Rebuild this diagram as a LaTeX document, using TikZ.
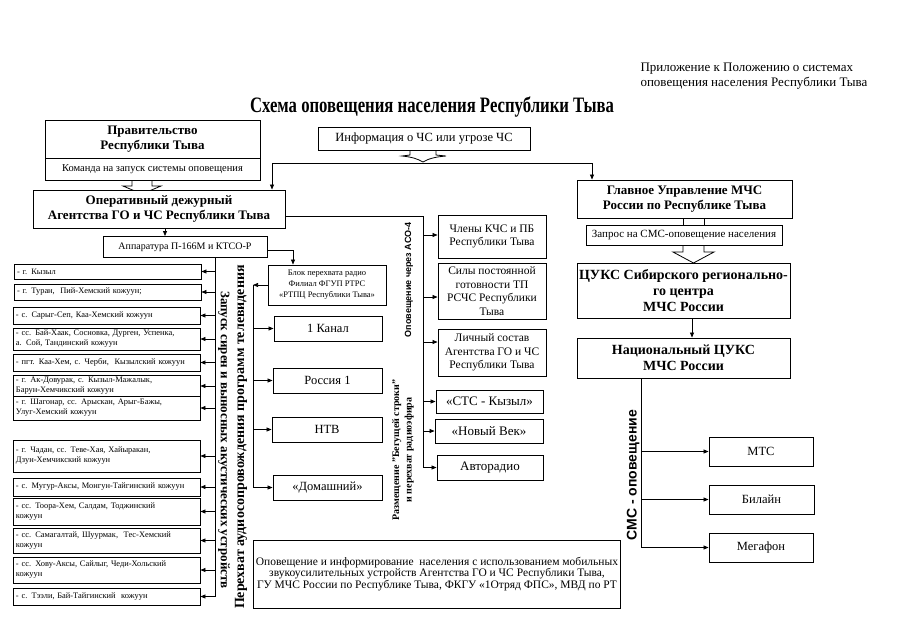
\documentclass[tikz,border=0pt]{standalone}
\usepackage{fontspec}
\usepackage{graphicx}
\setmainfont{Liberation Serif}
\setsansfont{Liberation Sans}
\usetikzlibrary{arrows.meta}
\newcommand{\fsz}[2]{\fontsize{#1}{#2}\selectfont}
\begin{document}
\begin{tikzpicture}[x=1pt,y=-1pt,
  bx/.style={draw, line width=0.9pt, fill=white, inner sep=2pt, align=center},
  lbx/.style={bx, align=left, text width=181pt, inner xsep=3pt, inner ysep=1pt, font=\fsz{8.4}{10}},
  cn/.style={line width=0.7pt},
  ar/.style={cn, -{Triangle[length=5pt,width=4pt]}},
  hol/.style={line width=0.8pt, fill=white}
]
\useasboundingbox (0,0) rectangle (905,640);

% header and title
\node[align=left, anchor=west, font=\fsz{13}{15}] (hdr) at (637,76.5) {Приложение к Положению о системах\\оповещения населения Республики Тыва};
\node[font=\bfseries\fsz{22}{24}] (title) at (432,107) {\scalebox{0.76}[1]{Схема оповещения населения Республики Тыва}};

% hollow arrows (drawn under boxes)
\draw[hol] (132,179) -- (132,186) -- (123,186) -- (142,194) -- (161,186) -- (152,186) -- (152,179);
\draw[hol] (683,244) -- (683,252) -- (673,252) -- (693.5,263) -- (714,252) -- (704,252) -- (704,244);
\draw[cn] (683,217) -- (683,226) (704,217) -- (704,226);
\draw[hol] (410,149) -- (410,155) -- (402,156) .. controls (412,157) and (418,159) .. (423,162) .. controls (428,159) and (434,157) .. (446,156) -- (436,155) -- (436,149);

% top-left chain
\node[bx, minimum width=215pt, minimum height=38pt, font=\bfseries\fsz{13}{15}] (prav) at (152.5,139) {Правительство\\Республики Тыва};
\node[bx, minimum width=215pt, minimum height=22pt, font=\fsz{10.5}{12}] (kom) at (152.5,169) {Команда на запуск системы оповещения};
\node[bx, minimum width=252pt, minimum height=38pt, font=\bfseries\fsz{13}{15}] (oper) at (159,209) {Оперативный дежурный\\Агентства ГО и ЧС Республики Тыва};
\node[bx, minimum width=164pt, minimum height=21pt, font=\fsz{10}{12}] (appar) at (185,247) {Аппаратура П-166М и КТСО-Р};

% info
\node[bx, minimum width=212pt, minimum height=23pt, font=\fsz{12.5}{14}] (info) at (424,138.5) {Информация о ЧС или угрозе ЧС};

% right column
\node[bx, minimum width=215pt, minimum height=38pt, font=\bfseries\fsz{13}{15}] (gu) at (684.5,199) {Главное Управление МЧС\\России по Республике Тыва};
\node[bx, minimum width=196pt, minimum height=20pt, font=\fsz{11}{13}] (zapr) at (684,235) {Запрос на СМС-оповещение населения};
\node[bx, minimum width=213pt, minimum height=55pt, font=\bfseries\fsz{14}{16}] (cuks) at (683.5,290.5) {ЦУКС Сибирского регионально-\\го центра\\МЧС России};
\node[bx, minimum width=213pt, minimum height=40pt, font=\bfseries\fsz{14}{16}] (nac) at (683.5,358) {Национальный ЦУКС\\МЧС России};
\node[bx, minimum width=104pt, minimum height=29pt, font=\fsz{12.5}{14}] (mts) at (761,451.5) {МТС};
\node[bx, minimum width=105pt, minimum height=29pt, font=\fsz{12.5}{14}] (bil) at (761.5,499.5) {Билайн};
\node[bx, minimum width=104pt, minimum height=29pt, font=\fsz{12.5}{14}] (meg) at (761,547.5) {Мегафон};
\node[rotate=90, font=\sffamily\bfseries\fsz{14}{16}] (sms) at (633,475) {СМС - оповещение};

% TV block
\node[bx, minimum width=118pt, minimum height=40pt, font=\fsz{8.5}{11}] (blok) at (327,285) {Блок перехвата радио\\Филиал ФГУП РТРС\\«РТПЦ Республики Тыва»};
\node[bx, minimum width=108pt, minimum height=25pt, font=\fsz{12.5}{14}] (k1c) at (328,328.5) {1 Канал};
\node[bx, minimum width=109pt, minimum height=25pt, font=\fsz{12.5}{14}] (ros) at (327.5,380.5) {Россия 1};
\node[bx, minimum width=110pt, minimum height=25pt, font=\fsz{12.5}{14}] (ntv) at (327,429.5) {НТВ};
\node[bx, minimum width=109pt, minimum height=25pt, font=\fsz{12.5}{14}] (dom) at (327.5,487.5) {«Домашний»};

% ASO block
\node[bx, minimum width=108pt, minimum height=43pt, font=\fsz{11.5}{13.5}] (kchs) at (492,236.5) {Члены КЧС и ПБ\\Республики Тыва};
\node[bx, minimum width=108pt, minimum height=56pt, font=\fsz{11.5}{13.5}] (sily) at (492,291) {Силы постоянной\\готовности ТП\\РСЧС Республики\\Тыва};
\node[bx, minimum width=108pt, minimum height=47pt, font=\fsz{11.5}{13.5}] (lich) at (492,352.5) {Личный состав\\Агентства ГО и ЧС\\Республики Тыва};
\node[bx, minimum width=107pt, minimum height=23pt, font=\fsz{13}{15}] (sts) at (489.5,401.5) {«СТС - Кызыл»};
\node[bx, minimum width=108pt, minimum height=24pt, font=\fsz{13}{15}] (vek) at (489,431) {«Новый Век»};
\node[bx, minimum width=106pt, minimum height=25pt, font=\fsz{13}{15}] (avto) at (490,467.5) {Авторадио};
\node[rotate=90, font=\sffamily\bfseries\fsz{9}{10}] (aso) at (409,280) {Оповещение через АСО-4};
\node[rotate=90, font=\bfseries\fsz{10}{12.5}, align=center] (beg) at (403,450) {Размещение "Бегущей строки"\\и перехват радиоэфира};

% bottom box
\node[bx, minimum width=364pt, minimum height=68pt, font=\fsz{11.5}{11.5}] (mob) at (437,574) {Оповещение и информирование\ \ населения с использованием мобильных\\звукоусилительных устройств Агентства ГО и ЧС Республики Тыва,\\ГУ МЧС России по Республике Тыва, ФКГУ «1Отряд ФПС», МВД по РТ};

% left list
\node[lbx, minimum height=15pt] (l1) at (107.5,271.5) {- г. Кызыл};
\node[lbx, minimum height=16pt] (l2) at (107.5,292) {- г. Туран,\ \ Пий-Хемский кожуун;};
\node[lbx, minimum height=17pt] (l3) at (106.5,315.5) {- с. Сарыг-Сеп, Каа-Хемский кожуун};
\node[lbx, minimum height=22pt] (l4) at (106.5,339) {- сс. Бай-Хаак, Сосновка, Дурген, Успенка,\\а. Сой, Тандинский кожуун};
\node[lbx, minimum height=17pt] (l5) at (106.5,362.5) {- пгт. Каа-Хем, с. Черби,\ \ Кызылский кожуун};
\node[lbx, minimum height=21pt] (l6) at (106.5,386) {- г. Ак-Довурак, с. Кызыл-Мажалык,\\Барун-Хемчикский кожуун};
\node[lbx, minimum height=24pt] (l7) at (106.5,408) {- г. Шагонар, сс. Арыскан, Арыг-Бажы,\\Улуг-Хемский кожуун};
\node[lbx, minimum height=32pt] (l8) at (106.5,456) {- г. Чадан, сс. Теве-Хая, Хайыракан,\\Дзун-Хемчикский кожуун};
\node[lbx, minimum height=18pt] (l9) at (106.5,487) {- с. Мугур-Аксы, Монгун-Тайгинский кожуун};
\node[lbx, minimum height=27pt] (l10) at (106.5,511.5) {- сс. Тоора-Хем, Салдам, Тоджинский\\кожуун};
\node[lbx, minimum height=25pt] (l11) at (106.5,540.5) {- сс. Самагалтай, Шуурмак,\ \ Тес-Хемский\\кожуун};
\node[lbx, minimum height=26pt] (l12) at (106.5,570) {- сс. Хову-Аксы, Сайлыг, Чеди-Хольский\\кожуун};
\node[lbx, minimum height=17pt] (l13) at (106.5,596.5) {- с. Тээли, Бай-Тайгинский\ \ кожуун};
\node[rotate=-90, font=\bfseries\fsz{13}{15}] (zap) at (224,440) {Запуск сирен и выносных акустических устройств};
\node[rotate=90, font=\bfseries\fsz{14}{16}] (per) at (241,437) {Перехват аудиосопровождения программ телевидения};

% connectors
\coordinate (hl) at (272,163);
\coordinate (hr) at (592,163);
\draw[cn] (hl) -- (hr);
\draw[ar] (hl) -- (hl |- oper.north);
\draw[ar] (hr) -- (hr |- gu.north);

\coordinate (oa) at (165,0);
\draw[ar] (oa |- oper.south) -- (oa |- appar.north);

\coordinate (ab) at (293,250);
\draw[ar] (appar.east |- ab) -- (ab) -- (ab |- blok.north);

\coordinate (lbus) at (215,0);
\draw[cn] (lbus |- appar.south) -- (lbus |- l13.east);
\foreach \n in {l1,l2,l3,l4,l5,l6,l7,l8,l9,l10,l11,l12,l13}
  \draw[ar] (lbus |- \n.east) -- (\n.east);

\coordinate (tbus) at (253,0);
\draw[ar] (blok.west) -- (tbus |- blok.west);
\draw[cn] (tbus |- blok.west) -- (tbus |- dom.west);
\foreach \n in {k1c,ros,ntv,dom}
  \draw[ar] (tbus |- \n.west) -- (\n.west);

\coordinate (abus) at (423,216);
\draw[cn] (oper.east |- abus) -- (abus) -- (abus |- avto.west);
\coordinate (ay1) at (423,235);
\coordinate (ay2) at (423,297);
\coordinate (ay3) at (423,342);
\draw[ar] (ay1) -- (ay1 -| kchs.west);
\draw[ar] (ay2) -- (ay2 -| sily.west);
\draw[ar] (ay3) -- (ay3 -| lich.west);
\foreach \n in {sts,vek,avto}
  \draw[ar] (abus |- \n.west) -- (\n.west);

\coordinate (cn1) at (692,0);
\draw[ar] (cn1 |- cuks.south) -- (cn1 |- nac.north);

\coordinate (sbus) at (641,0);
\draw[cn] (sbus |- nac.south) -- (sbus |- meg.west);
\foreach \n in {mts,bil,meg}
  \draw[ar] (sbus |- \n.west) -- (\n.west);
\end{tikzpicture}
\end{document}
